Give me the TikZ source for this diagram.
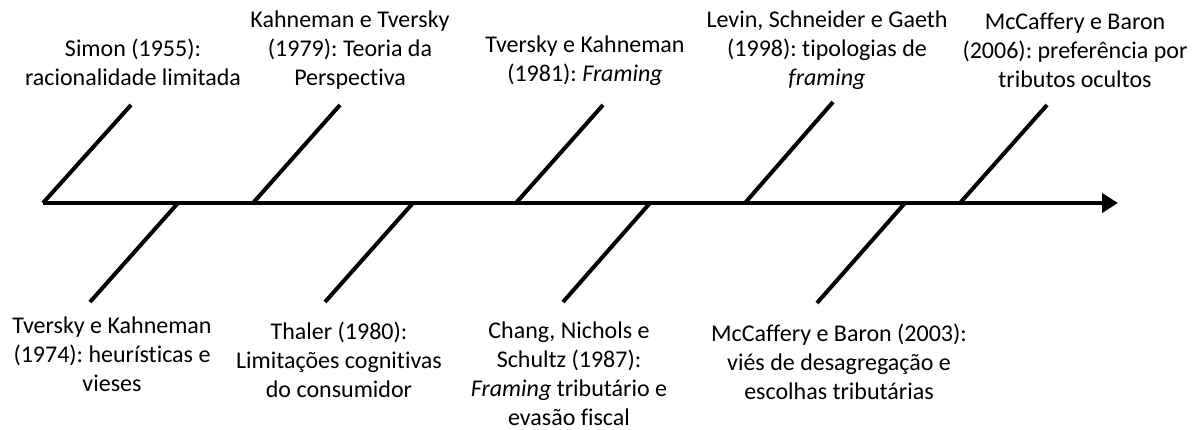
\documentclass[tikz,border=0pt]{standalone}
\usepackage{fontspec}
\setmainfont{Carlito}[Ligatures=NoCommon]
\usetikzlibrary{arrows.meta}
\frenchspacing
\begin{document}
\begin{tikzpicture}[x=1pt,y=-1pt,
  bone/.style={line width=4pt},
  axisline/.style={line width=4pt,-{Triangle[length=16pt,width=19pt]}},
  lbl/.style={align=center,font=\fontsize{24}{29}\selectfont,inner sep=0pt}]
\useasboundingbox (0,0) rectangle (1200,430);

% main time axis
\coordinate (start) at (43,203);
\coordinate (finish) at (1118,203);
\draw[axisline] (start) -- (finish);

% upper branches: base on the axis, free end above
\coordinate (u1b) at (43,203);   \coordinate (u1t) at (131,105);
\coordinate (u2b) at (253,203);  \coordinate (u2t) at (340,105);
\coordinate (u3b) at (516,203);  \coordinate (u3t) at (603,105);
\coordinate (u4b) at (745,203);  \coordinate (u4t) at (833,102);
\coordinate (u5b) at (960,203);  \coordinate (u5t) at (1047,105);
\foreach \i in {1,...,5} \draw[bone] (u\i b) -- (u\i t);

% lower branches: base on the axis, free end below
\coordinate (d1b) at (178,203);  \coordinate (d1t) at (90,302);
\coordinate (d2b) at (413,203);  \coordinate (d2t) at (325,302);
\coordinate (d3b) at (650,203);  \coordinate (d3t) at (563,302);
\coordinate (d4b) at (905,203);  \coordinate (d4t) at (817,303);
\foreach \i in {1,...,4} \draw[bone] (d\i b) -- (d\i t);

% labels above the axis
\node[lbl] (simon) at (133,62) {Simon (1955):\\racionalidade limitada};
\node[lbl] (kt79) at (350,50) {Kahneman e Tversky\\(1979): Teoria da\\Perspectiva};
\node[lbl] (tk81) at (585,61) {Tversky e Kahneman\\(1981): \textit{Framing}};
\node[lbl] (levin) at (827,50) {Levin, Schneider e Gaeth\\(1998): tipologias de\\\textit{framing}};
\node[lbl] (mb06) at (1075,50) {McCaffery e Baron\\(2006): preferência por\\tributos ocultos};

% labels below the axis
\node[lbl] (tk74) at (112,354) {Tversky e Kahneman\\(1974): heurísticas e\\vieses};
\node[lbl] (thaler) at (339,360) {Thaler (1980):\\Limitações cognitivas\\do consumidor};
\node[lbl] (chang) at (569,374) {Chang, Nichols e\\Schultz (1987):\\\textit{Framing} tributário e\\evasão fiscal};
\node[lbl] (mb03) at (839,362) {McCaffery e Baron (2003):\\viés de desagregação e\\escolhas tributárias};
\end{tikzpicture}
\end{document}
